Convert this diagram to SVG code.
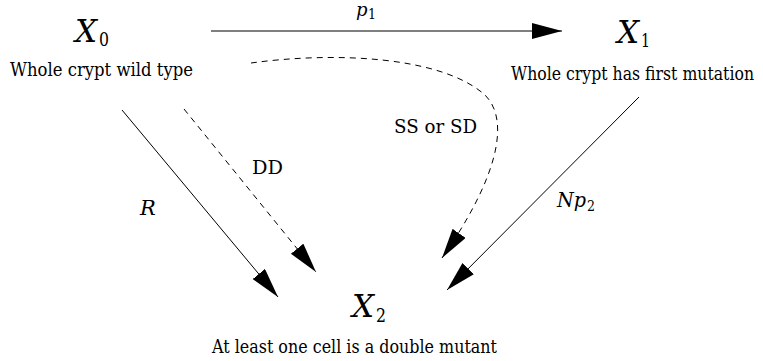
<svg xmlns="http://www.w3.org/2000/svg" width="763" height="361" viewBox="0 0 763 361">
<style>
text{font-family:"DejaVu Serif","Liberation Serif",serif;fill:#000}
.lbl{font-size:18px}
.mi{font-size:31px;font-style:italic}
.sub{font-size:19px}
.ml{font-size:20px;font-style:italic}
.ms{font-size:14px}
.rm{font-size:19px}
.c{fill:none;stroke:#000;stroke-width:1}
.d{stroke-dasharray:6,5}
</style>
<defs>
<marker id="ah" markerUnits="userSpaceOnUse" markerWidth="31" markerHeight="17" refX="30" refY="8" orient="auto" viewBox="0 0 31 17">
<path d="M0,0 L30,8 L0,16 z" fill="#000"/>
</marker>
</defs>
<g id="connectors">
<path class="c" d="M211,31 L562,31" marker-end="url(#ah)"/>
<text x="356" y="16" class="ml" style="font-size:18px">p</text><text x="368" y="19" class="ms" textLength="8" lengthAdjust="spacingAndGlyphs">1</text>
<path class="c d" d="M251,63 C330,52 440,55 485,95 C512,122 495,182 442,258" marker-end="url(#ah)"/>
<text x="394" y="133" class="rm" textLength="83" lengthAdjust="spacingAndGlyphs">SS or SD</text>
<path class="c" d="M639,97 L447,290" marker-end="url(#ah)"/>
<text x="557" y="207" class="ml" textLength="29" lengthAdjust="spacingAndGlyphs">Np</text><text x="587" y="211" class="ms" textLength="8" lengthAdjust="spacingAndGlyphs">2</text>
<path class="c" d="M122,110 L278,297" marker-end="url(#ah)"/>
<text x="140" y="215" class="ml" style="font-size:21px">R</text>
<path class="c d" d="M184,109 L316,272" marker-end="url(#ah)"/>
<text x="252" y="174" class="rm" textLength="31" lengthAdjust="spacingAndGlyphs">DD</text>
</g>
<g id="X0">
<text x="75" y="42" class="mi">X</text><text x="99" y="46" class="sub" textLength="10" lengthAdjust="spacingAndGlyphs">0</text>
<text x="10" y="76" class="lbl" textLength="183" lengthAdjust="spacingAndGlyphs">Whole crypt wild type</text>
</g>
<g id="X1">
<text x="617" y="43" class="mi">X</text><text x="641" y="47" class="sub" textLength="9" lengthAdjust="spacingAndGlyphs">1</text>
<text x="511" y="80" class="lbl" textLength="243" lengthAdjust="spacingAndGlyphs">Whole crypt has first mutation</text>
</g>
<g id="X2">
<text x="352" y="317" class="mi">X</text><text x="376" y="322" class="sub" textLength="10" lengthAdjust="spacingAndGlyphs">2</text>
<text x="212" y="353" class="lbl" textLength="285" lengthAdjust="spacingAndGlyphs">At least one cell is a double mutant</text>
</g>
</svg>
